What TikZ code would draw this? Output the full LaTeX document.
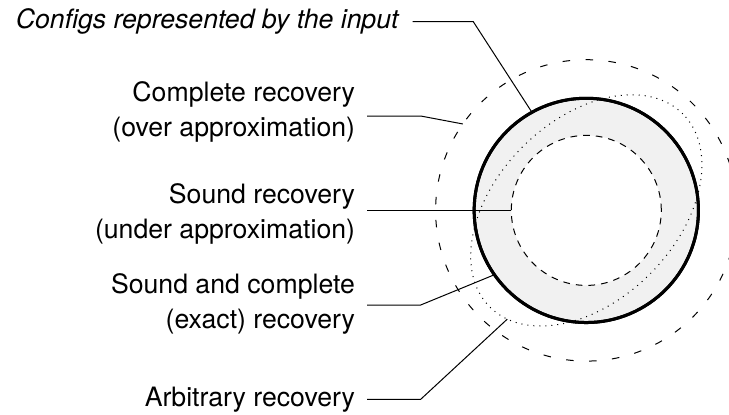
\documentclass[tikz,border=0pt]{standalone}
\usepackage{fontspec}
\setmainfont{TeX Gyre Heros}
\usetikzlibrary{shapes.geometric}
\definecolor{ringgray}{RGB}{241,241,241}
\begin{document}
\begin{tikzpicture}[x=0.5pt,y=0.5pt,
  labeltext/.style={font=\fontsize{13.33pt}{17.5pt}\selectfont, align=right,
    inner sep=0pt, outer xsep=6pt, outer ysep=0pt, anchor=east},
  leader/.style={line width=0.5pt},
  region/.style={inner sep=0pt, outer sep=0pt, line width=0.5pt},
  longdash/.style={dash pattern=on 3.75pt off 7.75pt},
  shortdash/.style={dash pattern=on 3.35pt off 3pt},
  finedots/.style={dash pattern=on 0.5pt off 2.5pt}]
\clip (0,0) rectangle (729,414);
\coordinate (C) at (586.3,203.6);

% nested regions
\node[region, circle, draw, longdash, minimum size=150.7pt] (outer) at (C) {};
\node[region, circle, draw, fill=ringgray, line width=1.5pt, minimum size=112.15pt] (exact) at (C) {};
\node[region, circle, draw, shortdash, fill=white, minimum size=75pt] (inner) at (C) {};
\node[region, ellipse, draw, finedots, minimum width=136.5pt, minimum height=90pt, rotate=45] (arb) at (C) {};
\draw[line width=1.5pt] (C) circle [radius=112.15];

% labels
\node[labeltext, outer xsep=7pt, font=\fontsize{13.33pt}{17.5pt}\selectfont\itshape] (lblInput) at (412.5,392.7) {Configs represented by the input};
\node[labeltext] (lblComplete) at (367,302.5) {Complete recovery\\(over approximation)};
\node[labeltext] (lblSound) at (367,200.5) {Sound recovery\\(under approximation)};
\node[labeltext] (lblExact) at (367,109.6) {Sound and complete\\(exact) recovery};
\node[labeltext] (lblArb) at (367,14.3) {Arbitrary recovery};

% leader bends
\coordinate (kInput) at (473.3,392.3);
\coordinate (kComplete) at (420.7,298);
\coordinate (kExact) at (420.7,109);
\coordinate (kArb) at (420.7,14.7);

% leaders
\draw[leader] (kInput -| lblInput.east) -- (kInput) -- (exact.119);
\draw[leader] (kComplete -| lblComplete.east) -- (kComplete) -- (outer.145);
\draw[leader] (lblSound.east |- inner.west) -- (inner.west);
\draw[leader] (kExact -| lblExact.east) -- (kExact) -- (exact.215);
\draw[leader] (kArb -| lblArb.east) -- (kArb) -- (arb.189.4);
\end{tikzpicture}
\end{document}
